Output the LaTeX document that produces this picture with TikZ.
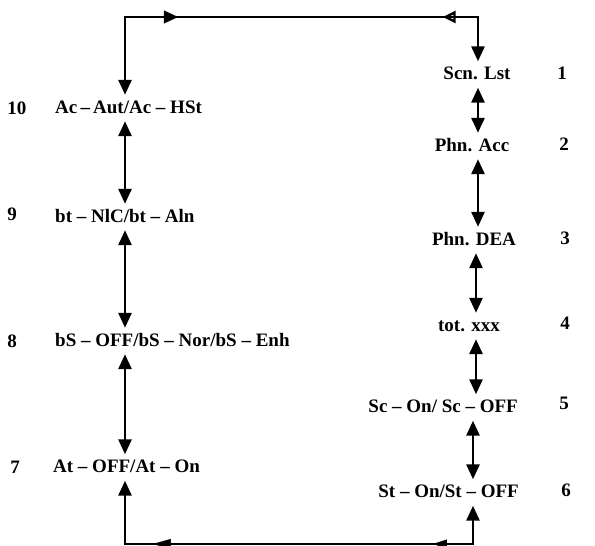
\documentclass[tikz,border=0pt]{standalone}
\usepackage{fontspec}
\setmainfont{Liberation Serif}
\usetikzlibrary{arrows.meta, decorations.markings}

\begin{document}
\begin{tikzpicture}[x=1pt, y=-1pt,
  every node/.style={text=black, font=\fontsize{19}{21}\selectfont\bfseries},
  state/.style={inner sep=5pt, text height=13pt, text depth=3pt},
  num/.style={inner sep=0pt},
  wire/.style={line width=2.8pt, draw=black},
  dbl/.style={wire, {Triangle[length=15pt, width=13pt]}-{Triangle[length=15pt, width=13pt]}},
  topmarks/.style={postaction={decorate}, decoration={markings,
      mark=at position 0.15 with {\arrow{Triangle[length=14pt, width=13pt]}},
      mark=at position 0.90 with {\arrowreversed{Triangle[open, length=13pt, width=12pt, line width=2.4pt]}}}},
  botmarks/.style={postaction={decorate}, decoration={markings,
      mark=at position 0.08 with {\arrowreversed{Triangle[length=18pt, width=10pt]}},
      mark=at position 0.885 with {\arrowreversed{Triangle[length=14pt, width=9pt]}}}}]

  \useasboundingbox (0,0) rectangle (595,546);

  %% left column
  \node[state, anchor=west] (ac)  at (50,108)   {Ac\,–\,Aut/Ac – HSt};
  \node[state, anchor=west] (bt)  at (50,217)   {bt – NlC/bt – Aln};
  \node[state, anchor=west] (bs)  at (50,341)   {bS – OFF/bS – Nor/bS – Enh};
  \node[state, anchor=west] (at)  at (48,467.5) {At – OFF/At – On};

  \node[num] (n10) at (17,108) {10};
  \node[num] (n9)  at (12,214) {9};
  \node[num] (n8)  at (12,341) {8};
  \node[num] (n7)  at (15,467) {7};

  %% right column
  \node[state] (scn) at (477,74.5) {Scn. Lst};
  \node[state] (acc) at (472,146)  {Phn. Acc};
  \node[state] (dea) at (474,240)  {Phn. DEA};
  \node[state] (tot) at (469,326)  {tot. xxx};
  \node[state, anchor=east] (sc) at (523,407.5) {Sc – On/ Sc – OFF};
  \node[state, anchor=east] (st) at (524,492.5) {St – On/St – OFF};

  \node[num] (n1) at (562,73.5) {1};
  \node[num] (n2) at (564,144)  {2};
  \node[num] (n3) at (565,238)  {3};
  \node[num] (n4) at (565,323)  {4};
  \node[num] (n5) at (564,403)  {5};
  \node[num] (n6) at (566,490)  {6};

  \coordinate (topL) at (125,17);
  \coordinate (topR) at (478,17);
  \coordinate (midR) at (476,300);
  \coordinate (botL) at (125,544);
  \coordinate (botR) at (473,544);

  %% loop over the top
  \draw[dbl] (ac.north -| topL) -- (topL) -- (topR) -- (scn.north -| topR);
  \path[topmarks] (topL) -- (topR);

  %% loop along the bottom
  \draw[dbl] (at.south -| botL) -- (botL) -- (botR) -- (st.south -| botR);
  \path[botmarks] (botL) -- (botR);

  %% left links
  \draw[dbl] (ac.south -| topL) -- (bt.north -| topL);
  \draw[dbl] (bt.south -| topL) -- (bs.north -| topL);
  \draw[dbl] (bs.south -| topL) -- (at.north -| topL);

  %% right links
  \draw[dbl] (scn.south -| topR) -- (acc.north -| topR);
  \draw[dbl] (acc.south -| topR) -- (dea.north -| topR);
  \draw[dbl] (dea.south -| midR) -- (tot.north -| midR);
  \draw[dbl] (tot.south -| midR) -- (sc.north -| midR);
  \draw[dbl] (sc.south -| botR) -- (st.north -| botR);
\end{tikzpicture}
\end{document}
